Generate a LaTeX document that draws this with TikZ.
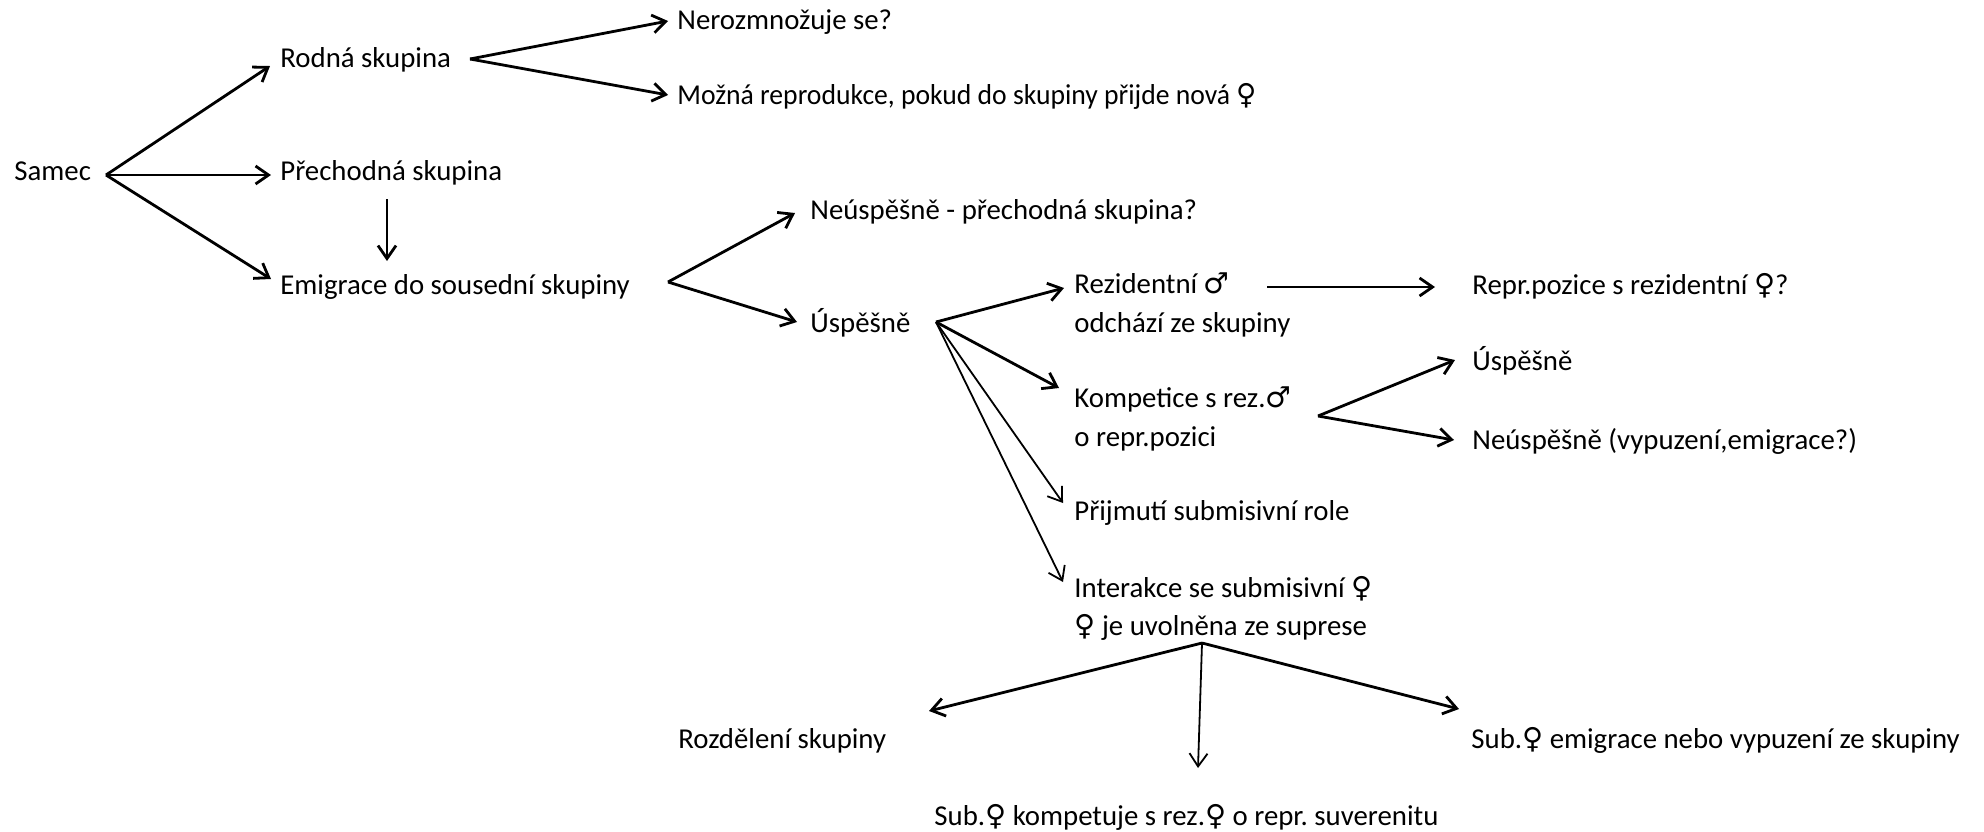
\documentclass[tikz,border=0pt]{standalone}
\usepackage{fontspec}
\usepackage{graphicx}
\setmainfont{Carlito}
\newfontfamily\symf{DejaVu Sans}
\newcommand{\fem}{{\symf ♀}}
\newcommand{\mal}{{\symf ♂}}
\usetikzlibrary{arrows.meta}
\frenchspacing
\tikzset{
 lbl/.style={anchor=base west, inner sep=0pt, font=\fontsize{14.4}{16}\selectfont},
 arr/.style={-{Straight Barb[length=6.5pt,width=9pt]}, line width=1.4pt},
 tarr/.style={arr, line width=0.9pt},
}
\begin{document}
\begin{tikzpicture}[x=0.5pt,y=-0.5pt]
\useasboundingbox (0,0) rectangle (1984,831);
% texts
\node[lbl] (samec) at (14,180) {Samec};
\node[lbl] (rodna) at (280,67) {Rodná skupina};
\node[lbl] (prech) at (280,180) {Přechodná skupina};
\node[lbl] (emig) at (280,294) {Emigrace do sousední skupiny};
\node[lbl] (neroz) at (677,29) {Nerozmnožuje se?};
\node[lbl] (mozna) at (677,104) {\scalebox{0.96}[1]{Možná reprodukce, pokud do skupiny přijde nová \fem}};
\node[lbl] (neusp) at (810,219) {Neúspěšně - přechodná skupina?};
\node[lbl] (usp) at (810,332) {Úspěšně};
\node[lbl] (rez) at (1074,293) {Rezidentní \mal};
\node[lbl] (rezb) at (1074,332) {odchází ze skupiny};
\node[lbl] (repr) at (1472,294) {Repr.pozice s rezidentní \fem?};
\node[lbl] (komp) at (1074,407) {Kompetice s rez.\mal};
\node[lbl] (kompb) at (1074,446) {o repr.pozici};
\node[lbl] (uspb) at (1472,370) {Úspěšně};
\node[lbl] (neuspb) at (1472,449) {Neúspěšně (vypuzení,emigrace?)};
\node[lbl] (prij) at (1074,520) {Přijmutí submisivní role};
\node[lbl] (inter) at (1074,597) {Interakce se submisivní \fem};
\node[lbl] (interb) at (1074,635) {\fem{} je uvolněna ze suprese};
\node[lbl] (rozd) at (678,748) {Rozdělení skupiny};
\node[lbl] (subk) at (934,825) {Sub.\fem{} kompetuje s rez.\fem{} o repr. suverenitu};
\node[lbl] (sube) at (1471,748) {Sub.\fem{} emigrace nebo vypuzení ze skupiny};
% fork points and arrow ends
\coordinate (s0) at (106,175);
\coordinate (r0) at (470,59);
\coordinate (e0) at (668,282);
\coordinate (u0) at (936,322);
\coordinate (k0) at (1318,416);
\coordinate (i0) at (1202,643);
\coordinate (pv1) at (387,199);
\coordinate (pv2) at (387,261);
\coordinate (rz1) at (1267,287);
% connectors
\draw[arr] (s0) -- (270,66);
\draw[arr] (s0) -- (271,175);
\draw[arr] (s0) -- (271,279);
\draw[arr] (pv1) -- (pv2);
\draw[arr] (r0) -- (668,21);
\draw[arr] (r0) -- (668,95);
\draw[arr] (e0) -- (795,213);
\draw[arr] (e0) -- (797,322);
\draw[arr] (u0) -- (1064,288);
\draw[arr] (u0) -- (1059,388);
\draw[tarr] (u0) -- (1063,503);
\draw[tarr] (u0) -- (1063,582);
\draw[arr] (rz1) -- (1435,287);
\draw[arr] (k0) -- (1455,360);
\draw[arr] (k0) -- (1454,440);
\draw[arr] (i0) -- (929,711);
\draw[tarr] (i0) -- (1198,768);
\draw[arr] (i0) -- (1459,709);
\end{tikzpicture}
\end{document}
